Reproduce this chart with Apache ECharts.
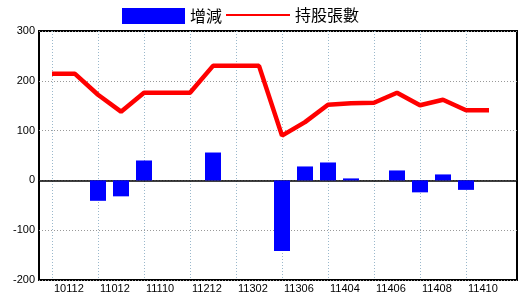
<!DOCTYPE html>
<html>
<head>
<meta charset="utf-8">
<script src="https://cdn.jsdelivr.net/npm/echarts@6/dist/echarts.min.js"></script>
<style>html,body{margin:0;padding:0;background:#fff;}#c{width:520px;height:300px;}</style>
</head>
<body>
<div id="c"></div>
<script>
const categories = ['10112','10612','11012','11106','11110','11112','11212','11301','11302','11304','11306','11312','11404','11405','11406','11407','11408','11409','11410','11411'];
const changeValues = [0,0,-41,-32,40,0,0,56,0,0,-142,28,36,4,0,20,-24,12,-19,0];
const holdingValues = [214,214,172,138,176,176,176,230,230,230,90,117,152,155,156,176,151,162,141,141];
const yTicks = {min:-200, max:300, interval:100};

const legendText = {fontFamily:'Noto Sans CJK TC', fontSize:16, color:'#000'};
const chart = echarts.init(document.getElementById('c'), null, {renderer:'canvas'});
chart.setOption({
  animation:false,
  backgroundColor:'#fff',
  legend:[
    {left:122, top:8, padding:0, itemWidth:63, itemHeight:16, selectedMode:false,
     textStyle:legendText,
     data:[{name:'增減', icon:'rect', itemStyle:{color:'#0000ff'}}]},
    {left:226, top:7, padding:0, itemWidth:64, itemHeight:2, selectedMode:false,
     textStyle:legendText,
     data:[{name:'持股張數', icon:'rect', itemStyle:{color:'#ff0000'}}]}
  ],
  grid:[
    {left:52, right:31, top:31, bottom:20, show:false},
    {left:39, right:3, top:31, bottom:20, show:true, borderColor:'#000', borderWidth:2, backgroundColor:'transparent'}
  ],
  xAxis:[
    {type:'category', gridIndex:0, data:categories, boundaryGap:false,
     axisLine:{show:false}, axisTick:{show:false},
     axisLabel:{interval:1, align:'left', fontFamily:'Liberation Sans', fontSize:11, color:'#000', margin:3, padding:[0,0,0,2]},
     splitLine:{show:true, interval:1, lineStyle:{color:'#9ab8cc', type:[1,2], width:1}}},
    {type:'value', gridIndex:1, min:0, max:1,
     axisLine:{show:true, onZero:true, lineStyle:{color:'#000', width:1.5}},
     axisTick:{show:false}, axisLabel:{show:false}, splitLine:{show:false}}
  ],
  yAxis:[
    {type:'value', gridIndex:0, min:yTicks.min, max:yTicks.max, interval:yTicks.interval, show:false, splitLine:{show:false}},
    {type:'value', gridIndex:1, min:yTicks.min, max:yTicks.max, interval:yTicks.interval,
     axisLine:{show:false}, axisTick:{show:false},
     axisLabel:{fontFamily:'Liberation Sans', fontSize:11, color:'#000', margin:4},
     splitLine:{show:true, lineStyle:{color:'#999', type:[1,2], width:1}}}
  ],
  series:[
    {name:'增減', type:'bar', xAxisIndex:0, yAxisIndex:0, data:changeValues, barWidth:16,
     itemStyle:{color:'#0000ff'}},
    {name:'持股張數', type:'line', xAxisIndex:0, yAxisIndex:0, data:holdingValues,
     symbol:'none', lineStyle:{color:'#ff0000', width:4.5}, itemStyle:{color:'#ff0000'}}
  ]
});
</script>
</body>
</html>
